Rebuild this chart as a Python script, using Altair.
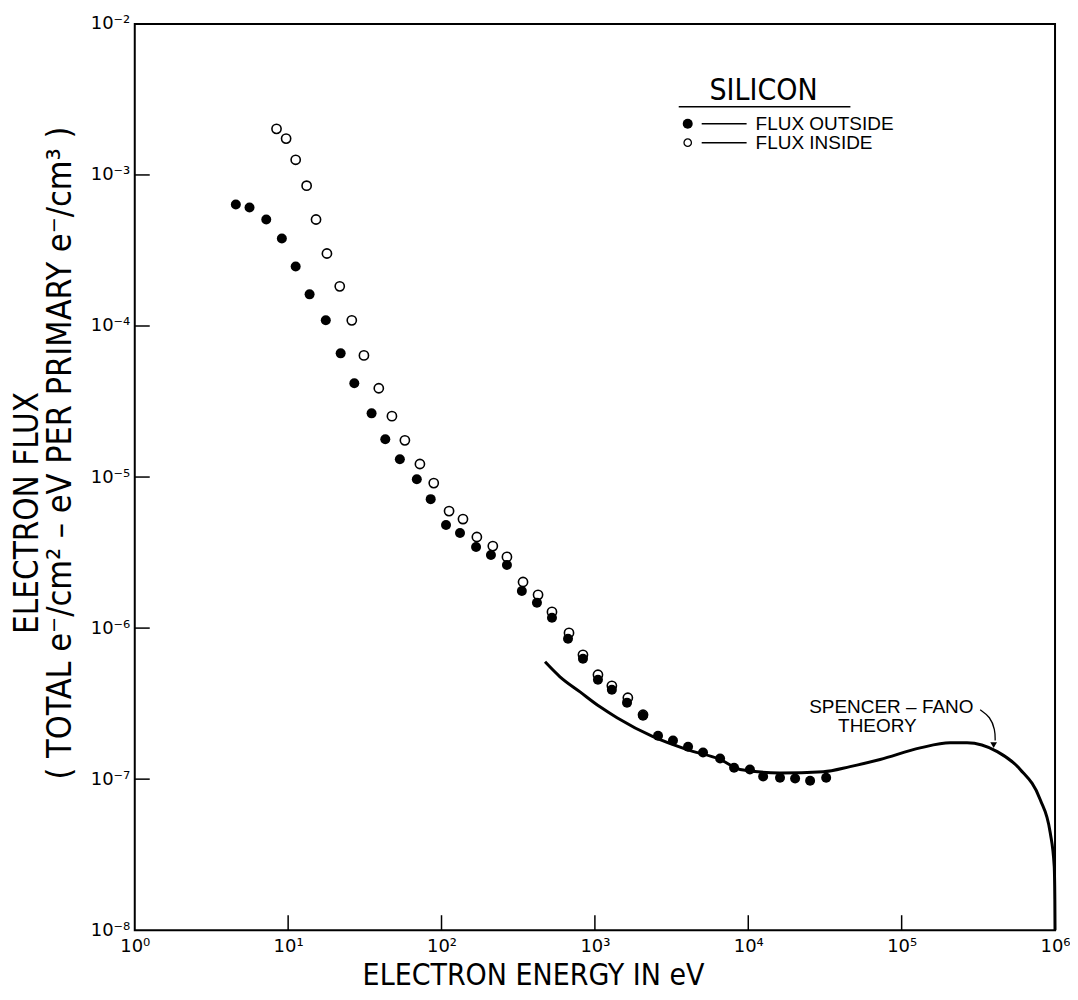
import altair as alt
import pandas as pd

# ---------------- data ----------------
outside_energy = [4.56, 5.6, 7.2, 9.1, 11.2, 13.8, 17.6, 22, 27, 35, 43, 53.5, 69, 85,
                  107, 132, 168, 210, 267, 334, 419, 525, 668, 836, 1047, 1290, 1620,
                  2060, 2580, 3230, 4050, 5070, 6550, 8080, 10250, 12500, 16100, 20200,
                  25300, 32200]
outside_flux = [6.37e-4, 6.08e-4, 5.07e-4, 3.80e-4, 2.48e-4, 1.62e-4, 1.09e-4, 6.59e-5,
                4.18e-5, 2.64e-5, 1.78e-5, 1.31e-5, 9.68e-6, 7.14e-6, 4.81e-6, 4.26e-6,
                3.44e-6, 3.05e-6, 2.62e-6, 1.76e-6, 1.47e-6, 1.17e-6, 8.49e-7, 6.26e-7,
                4.55e-7, 3.91e-7, 3.21e-7, 2.63e-7, 1.94e-7, 1.80e-7, 1.64e-7, 1.50e-7,
                1.37e-7, 1.19e-7, 1.16e-7, 1.04e-7, 1.02e-7, 1.01e-7, 9.77e-8, 1.02e-7]

inside_energy = [8.4, 9.7, 11.2, 13.2, 15.2, 17.9, 21.7, 26, 31.2, 39, 47.5, 57.7, 72.3,
                 89, 112, 138, 170, 216, 267, 340, 426, 525, 678, 836, 1047, 1290, 1640,
                 2060]
inside_flux = [2.02e-3, 1.74e-3, 1.26e-3, 8.49e-4, 5.07e-4, 3.02e-4, 1.83e-4, 1.09e-4,
               6.39e-5, 3.87e-5, 2.53e-5, 1.75e-5, 1.22e-5, 9.12e-6, 5.95e-6, 5.27e-6,
               4.01e-6, 3.49e-6, 2.96e-6, 2.02e-6, 1.66e-6, 1.28e-6, 9.29e-7, 6.65e-7,
               4.91e-7, 4.15e-7, 3.46e-7, 2.67e-7]

theory_energy = [473, 592, 800, 1080, 1394, 2393, 3990, 6550, 8840, 16100, 30800, 46100,
                 72400, 1.32e5, 2.07e5, 2.67e5, 4.2e5, 5.93e5, 8.0e5, 9.3e5, 9.88e5,
                 9.97e5, 1.0e6]
theory_flux = [5.98e-7, 4.76e-7, 3.78e-7, 3.01e-7, 2.55e-7, 1.91e-7, 1.57e-7, 1.35e-7,
               1.16e-7, 1.10e-7, 1.12e-7, 1.21e-7, 1.35e-7, 1.61e-7, 1.74e-7, 1.74e-7,
               1.52e-7, 1.16e-7, 7.33e-8, 4.43e-8, 2.64e-8, 1.60e-8, 1.0e-8]

arrow_energy = [3.25e5, 3.78e5, 4.07e5, 4.07e5]
arrow_flux = [2.88e-7, 2.59e-7, 2.12e-7, 1.80e-7]
arrow_head_energy = [3.98e5]
arrow_head_flux = [1.68e-7]

x_tick_values = [1, 10, 100, 1e3, 1e4, 1e5, 1e6]
y_tick_values = [1e-8, 1e-7, 1e-6, 1e-5, 1e-4, 1e-3, 1e-2]
x_inner_ticks = [10, 100, 1e3, 1e4, 1e5]
y_inner_ticks = [1e-7, 1e-6, 1e-5, 1e-4, 1e-3]

x_title = "ELECTRON ENERGY IN eV"
y_title_1 = "ELECTRON FLUX"
y_title_2 = "( TOTAL  e\u207b/cm\u00b2 \u2013 eV   PER  PRIMARY  e\u207b/cm\u00b3 )"
legend_title = "SILICON"
legend_labels = ["FLUX OUTSIDE", "FLUX INSIDE"]
theory_label = ["SPENCER \u2013 FANO", "THEORY"]

# ---------------- styling ----------------
W, H = 922, 908
NARROW = "Liberation Sans Narrow, DejaVu Sans Condensed, Liberation Sans, sans-serif"
SANS = "Liberation Sans, Arial, sans-serif"
LABEL_FONT = "DejaVu Sans, sans-serif"

xs = alt.Scale(type="log", domain=[1, 1e6], nice=False)
ys = alt.Scale(type="log", domain=[1e-8, 1e-2], nice=False)

EXP = "round(log(datum.value)/LN10)"
label_expr = ("'10' + (" + EXP + " < 0 ? '\u207b' : '') + substring('\u2070\u00b9\u00b2\u00b3\u2074\u2075\u2076\u2077\u2078\u2079', abs("
              + EXP + "), abs(" + EXP + ") + 1)")

x_axis = alt.Axis(values=x_tick_values, labelExpr=label_expr, ticks=False, domain=False,
                  grid=False, labelFont=LABEL_FONT, labelFontSize=18, labelColor="black",
                  labelPadding=7, title=x_title, titleFont=NARROW, titleFontSize=30,
                  titleFontWeight="normal", titleColor="black", titleX=399, titleY=45,
                  titleAlign="center", titleBaseline="middle", labelFlush=False)
y_axis = alt.Axis(values=y_tick_values, labelExpr=label_expr, ticks=False, domain=False,
                  grid=False, labelFont=LABEL_FONT, labelFontSize=18, labelColor="black",
                  labelPadding=5, title=None, labelFlush=False)

X = alt.X("e:Q", scale=xs, axis=x_axis)
Y = alt.Y("f:Q", scale=ys, axis=y_axis)

one = pd.DataFrame({"k": [0]})

xticks = alt.Chart(pd.DataFrame({"e": x_inner_ticks})).mark_rule(
    color="black", strokeWidth=1.5).encode(x=X, y=alt.value(H), y2=alt.value(H - 15))

yticks = alt.Chart(pd.DataFrame({"f": y_inner_ticks})).mark_rule(
    color="black", strokeWidth=1.5).encode(y=Y, x=alt.value(0), x2=alt.value(15))

theory = alt.Chart(pd.DataFrame({"e": theory_energy, "f": theory_flux})).mark_line(
    color="black", strokeWidth=3, interpolate="monotone").encode(x=X, y=Y)

inside = alt.Chart(pd.DataFrame({"e": inside_energy, "f": inside_flux})).mark_circle(
    fill="white", stroke="black", strokeWidth=1.6, size=85, opacity=1).encode(x=X, y=Y)

outside = alt.Chart(pd.DataFrame({"e": outside_energy, "f": outside_flux})).mark_circle(
    color="black", size=100, opacity=1).encode(x=X, y=Y)

arrow = alt.Chart(pd.DataFrame({"e": arrow_energy, "f": arrow_flux})).mark_line(
    color="black", strokeWidth=1.3, interpolate="basis").encode(x=X, y=Y)

arrow_head = alt.Chart(pd.DataFrame({"e": arrow_head_energy, "f": arrow_head_flux})).mark_point(
    shape="triangle-down", filled=True, color="black", size=45, opacity=1).encode(x=X, y=Y)


def text_layer(t, x, y, size, font=SANS, align="center", angle=0):
    kw = dict(font=font, fontSize=size, align=align, baseline="middle", color="black")
    if angle:
        kw["angle"] = angle
    return alt.Chart(pd.DataFrame({"t": [t]})).mark_text(**kw).encode(
        text="t:N", x=alt.value(x), y=alt.value(y))


def rule_layer(x1, x2, y, width=1.5):
    return alt.Chart(one).mark_rule(color="black", strokeWidth=width).encode(
        x=alt.value(x1), x2=alt.value(x2), y=alt.value(y))


legend = [
    text_layer(legend_title, 630, 67, 30, font=NARROW),
    rule_layer(545, 717, 83),
    alt.Chart(one).mark_circle(color="black", size=100, opacity=1).encode(
        x=alt.value(554), y=alt.value(100)),
    rule_layer(568, 613, 100),
    text_layer(legend_labels[0], 622, 100, 19, align="left"),
    alt.Chart(one).mark_circle(fill="white", stroke="black", strokeWidth=1.3, size=55,
                               opacity=1).encode(x=alt.value(554), y=alt.value(119)),
    rule_layer(568, 613, 119),
    text_layer(legend_labels[1], 622, 119, 19, align="left"),
]

annotations = [
    text_layer(theory_label[0], 758, 684, 19),
    text_layer(theory_label[1], 744, 703, 19),
    text_layer(y_title_1, -107, 490, 33, font=NARROW, angle=270),
    text_layer(y_title_2, -74, 430, 34, font=NARROW, angle=270),
]

chart = alt.layer(xticks, yticks, theory, inside, outside, arrow, arrow_head,
                  *legend, *annotations).properties(
    width=W, height=H,
    autosize=alt.AutoSizeParams(type="none"),
    padding={"left": 127, "top": 15, "right": 15, "bottom": 64},
).configure_view(stroke="black", strokeWidth=2)

chart.save("out.html", embed_options={"renderer": "svg", "actions": False})
